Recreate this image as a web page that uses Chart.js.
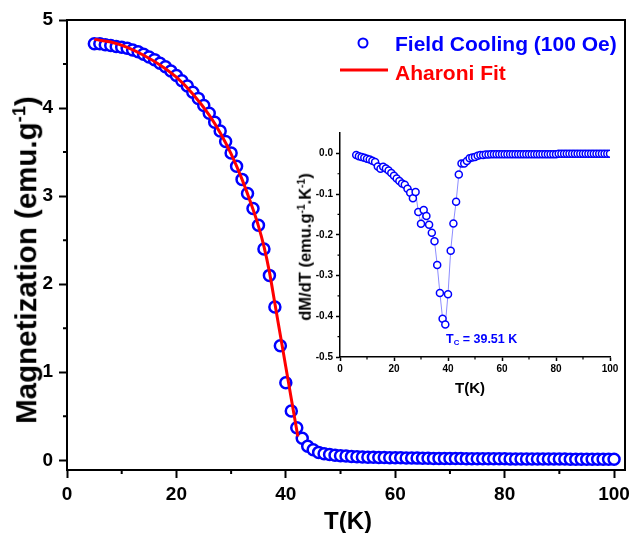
<!DOCTYPE html>
<html>
<head>
<meta charset="utf-8">
<script src="https://cdn.jsdelivr.net/npm/chart.js@4.4.1/dist/chart.umd.min.js"></script>
<style>
  html, body { margin: 0; padding: 0; background: #fff; }
  #wrap { position: relative; width: 633px; height: 533px; font-family: "Liberation Sans", Arial, sans-serif; font-weight: bold; }
  #main { position: absolute; left: 0; top: 0; }
  #inset { position: absolute; left: 290px; top: 118px; }
  .lbl { position: absolute; white-space: nowrap; line-height: 1; }
  .ctr { transform: translate(-50%, -50%); }
  .rot { transform: translate(-50%, -50%) rotate(-90deg); }
  .mid { transform: translateY(-50%); }
  sup { font-size: 62%; vertical-align: 0.6em; line-height: 0; }
  sub { font-size: 62%; vertical-align: -0.3em; line-height: 0; }
</style>
</head>
<body>
<div id="wrap">
  <canvas id="main" width="633" height="533"></canvas>
  <canvas id="inset" width="330" height="275"></canvas>

  <div class="lbl rot" style="left:26px; top:260px; font-size:29.5px;">Magnetization (emu.g<sup>-1</sup>)</div>
  <div class="lbl ctr" style="left:348px; top:521px; font-size:24px;">T(K)</div>

  <div class="lbl ctr" style="left:363px; top:43px; width:7px; height:7px; border:2.5px solid #0000ff; border-radius:50%;"></div>
  <div class="lbl mid" style="left:395px; top:43px; font-size:21px; color:#0000ff;">Field Cooling (100 Oe)</div>
  <div class="lbl mid" style="left:340px; top:70px; width:48px; height:3px; background:#ff0000;"></div>
  <div class="lbl mid" style="left:395px; top:72px; font-size:21px; color:#ff0000;">Aharoni Fit</div>

  <div class="lbl rot" style="left:305px; top:247px; font-size:16.5px;">dM/dT (emu.g<sup>-1</sup>.K<sup>-1</sup>)</div>
  <div class="lbl ctr" style="left:470px; top:387px; font-size:15px;">T(K)</div>
  <div class="lbl mid" style="left:446px; top:339px; font-size:12.5px; color:#0000ff;">T<sub>C</sub> = 39.51 K</div>
</div>

<script>
// field cooling data (100 Oe)
const tempK = [5, 6, 7, 8, 9, 10, 11, 12, 13, 14, 15, 16, 17, 18, 19, 20, 21, 22, 23, 24,
  25, 26, 27, 28, 29, 30, 31, 32, 33, 34, 35, 36, 37, 38, 39, 40, 41, 42, 43, 44,
  45, 46, 47, 48, 49, 50, 51, 52, 53, 54, 55, 56, 57, 58, 59, 60, 61, 62, 63, 64,
  65, 66, 67, 68, 69, 70, 71, 72, 73, 74, 75, 76, 77, 78, 79, 80, 81, 82, 83, 84,
  85, 86, 87, 88, 89, 90, 91, 92, 93, 94, 95, 96, 97, 98, 99, 100];
const magFC = [4.73, 4.73, 4.72, 4.71, 4.70, 4.69, 4.68, 4.66, 4.64, 4.61, 4.58, 4.55, 4.51, 4.47, 4.42, 4.37, 4.31, 4.25, 4.18, 4.11,
  4.03, 3.94, 3.84, 3.74, 3.62, 3.49, 3.34, 3.19, 3.03, 2.86, 2.67, 2.40, 2.10, 1.74, 1.30, 0.88, 0.56, 0.37, 0.25, 0.16,
  0.12, 0.09, 0.075, 0.065, 0.058, 0.052, 0.048, 0.044, 0.041, 0.038, 0.036, 0.034, 0.032, 0.031, 0.030, 0.029, 0.028, 0.027, 0.026, 0.025,
  0.024, 0.023, 0.022, 0.022, 0.021, 0.021, 0.020, 0.020, 0.019, 0.019, 0.018, 0.018, 0.018, 0.017, 0.017, 0.017, 0.016, 0.016, 0.016, 0.015,
  0.015, 0.015, 0.015, 0.014, 0.014, 0.014, 0.014, 0.013, 0.013, 0.013, 0.013, 0.012, 0.012, 0.012, 0.012, 0.012];

// Aharoni fit curve
const fitT = [5, 8, 11, 14, 17, 20, 23, 26, 28, 30, 32, 34, 35, 36, 37, 38, 39, 40, 41, 42.2];
const fitM = [4.78, 4.75, 4.69, 4.60, 4.49, 4.35, 4.16, 3.92, 3.72, 3.48, 3.19, 2.85, 2.66, 2.43, 2.14, 1.78, 1.42, 1.06, 0.70, 0.27];

// inset: dM/dT
const dmdtT = [6, 7, 8, 9, 10, 11, 12, 13, 14, 15, 16, 17, 18, 19, 20, 21, 22, 23, 24, 25,
  26, 27, 28, 29, 30, 31, 32, 33, 34, 35, 36, 37, 38, 39, 40, 41, 42, 43, 44, 45,
  46, 47, 48, 49, 50, 51, 52, 53, 54, 55, 56, 57, 58, 59, 60, 61, 62, 63, 64, 65,
  66, 67, 68, 69, 70, 71, 72, 73, 74, 75, 76, 77, 78, 79, 80, 81, 82, 83, 84, 85,
  86, 87, 88, 89, 90, 91, 92, 93, 94, 95, 96, 97, 98, 99, 100];
const dmdt = [-0.004, -0.007, -0.009, -0.011, -0.013, -0.015, -0.018, -0.021, -0.032, -0.038, -0.033, -0.037, -0.042, -0.048, -0.055, -0.062, -0.068, -0.074, -0.077, -0.087,
  -0.097, -0.110, -0.095, -0.144, -0.173, -0.139, -0.154, -0.175, -0.195, -0.216, -0.274, -0.343, -0.406, -0.420, -0.346, -0.239, -0.172, -0.119, -0.052, -0.025,
  -0.025, -0.019, -0.012, -0.010, -0.009, -0.006, -0.004, -0.004, -0.003, -0.003, -0.002, -0.002, -0.002, -0.002, -0.002, -0.002, -0.002, -0.002, -0.002, -0.002,
  -0.002, -0.002, -0.002, -0.002, -0.002, -0.002, -0.002, -0.002, -0.002, -0.002, -0.002, -0.002, -0.002, -0.002, -0.002, -0.001, -0.001, -0.001, -0.001, -0.001,
  -0.001, -0.001, -0.001, -0.001, -0.001, -0.001, -0.001, -0.001, -0.001, -0.001, -0.001, -0.001, -0.001, -0.001, -0.001];

const mainXTicks = [0, 20, 40, 60, 80, 100];
const mainYTicks = [0, 1, 2, 3, 4, 5];
const mainXMinor = [10, 30, 50, 70, 90];
const mainYMinor = [0.5, 1.5, 2.5, 3.5, 4.5];
const insetXTicks = [0, 20, 40, 60, 80, 100];
const insetYTicks = [0, -0.1, -0.2, -0.3, -0.4, -0.5];
const insetXMinor = [10, 30, 50, 70, 90];
const insetYMinor = [-0.05, -0.15, -0.25, -0.35, -0.45];

const FONT = "'Liberation Sans', Arial, sans-serif";

// minor ticks + optional top/right frame
const minorTicks = {
    id: 'minorTicks',
    afterDraw(chart, args, o) {
        const { ctx, chartArea: a, scales: { x, y } } = chart;
        ctx.save();
        ctx.strokeStyle = '#000';
        ctx.lineWidth = o.width;
        ctx.beginPath();
        o.xs.forEach(v => {
            const px = x.getPixelForValue(v);
            ctx.moveTo(px, a.bottom);
            ctx.lineTo(px, a.bottom + o.len);
        });
        o.ys.forEach(v => {
            const py = y.getPixelForValue(v);
            ctx.moveTo(a.left, py);
            ctx.lineTo(a.left - o.len, py);
        });
        if (o.box) {
            ctx.moveTo(a.left, a.top);
            ctx.lineTo(a.right, a.top);
            ctx.lineTo(a.right, a.bottom);
        }
        ctx.stroke();
        ctx.restore();
    }
};

const axis = (min, max, ticks, fontSize, tickLen, lineW, pad, fit, fmt) => ({
    type: 'linear',
    min: min,
    max: max,
    afterBuildTicks: s => { s.ticks = ticks.map(v => ({ value: v })); },
    afterFit: fit,
    ticks: {
        color: '#000',
        padding: pad,
        font: { family: FONT, size: fontSize, weight: 'bold' },
        callback: fmt || (v => v)
    },
    grid: { drawOnChartArea: false, tickLength: tickLen, tickWidth: lineW, color: '#000' },
    border: { color: '#000', width: lineW }
});

new Chart(document.getElementById('main'), {
    type: 'scatter',
    data: {
        datasets: [
            {
                label: 'Aharoni Fit',
                data: fitT.map((t, i) => ({ x: t, y: fitM[i] })),
                showLine: true,
                borderColor: '#ff0000',
                borderWidth: 3,
                pointRadius: 0,
                cubicInterpolationMode: 'monotone'
            },
            {
                label: 'Field Cooling (100 Oe)',
                data: tempK.map((t, i) => ({ x: t, y: magFC[i] })),
                pointRadius: 5.5,
                borderWidth: 2.5,
                borderColor: '#0000ff',
                backgroundColor: '#ffffff'
            }
        ]
    },
    options: {
        responsive: false,
        animation: false,
        devicePixelRatio: 1,
        layout: { padding: { top: 20, right: 6, left: 0, bottom: 0 } },
        plugins: {
            legend: { display: false },
            tooltip: { enabled: false },
            minorTicks: { xs: mainXMinor, ys: mainYMinor, len: 4, width: 2, box: true }
        },
        scales: {
            x: axis(0, 102, mainXTicks, 19, 8, 2, 5, s => { s.height = 63; s.paddingLeft = 0; s.paddingRight = 0; }),
            y: axis(-0.11, 5, mainYTicks, 19, 8, 2, 6, s => { s.width = 67; s.paddingTop = 0; s.paddingBottom = 0; })
        }
    },
    plugins: [minorTicks]
});

new Chart(document.getElementById('inset'), {
    type: 'scatter',
    data: {
        datasets: [{
            label: 'dM/dT',
            data: dmdtT.map((t, i) => ({ x: t, y: dmdt[i] })),
            showLine: true,
            borderColor: '#8c8cff',
            borderWidth: 1,
            pointRadius: 3.5,
            pointBorderWidth: 1.5,
            pointBorderColor: '#0000ff',
            pointBackgroundColor: '#ffffff'
        }]
    },
    options: {
        responsive: false,
        animation: false,
        devicePixelRatio: 1,
        layout: { padding: { top: 15, right: 10, left: 0, bottom: 0 } },
        plugins: {
            legend: { display: false },
            tooltip: { enabled: false },
            minorTicks: { xs: insetXMinor, ys: insetYMinor, len: 2.5, width: 1.2, box: false }
        },
        scales: {
            x: axis(0, 100, insetXTicks, 10, 4, 1.5, 2, s => { s.height = 36; s.paddingLeft = 0; s.paddingRight = 0; }),
            y: axis(-0.5, 0.05, insetYTicks, 10, 4, 1.5, 3, s => { s.width = 50; s.paddingTop = 0; s.paddingBottom = 0; }, v => v.toFixed(1))
        }
    },
    plugins: [minorTicks]
});
</script>
</body>
</html>
